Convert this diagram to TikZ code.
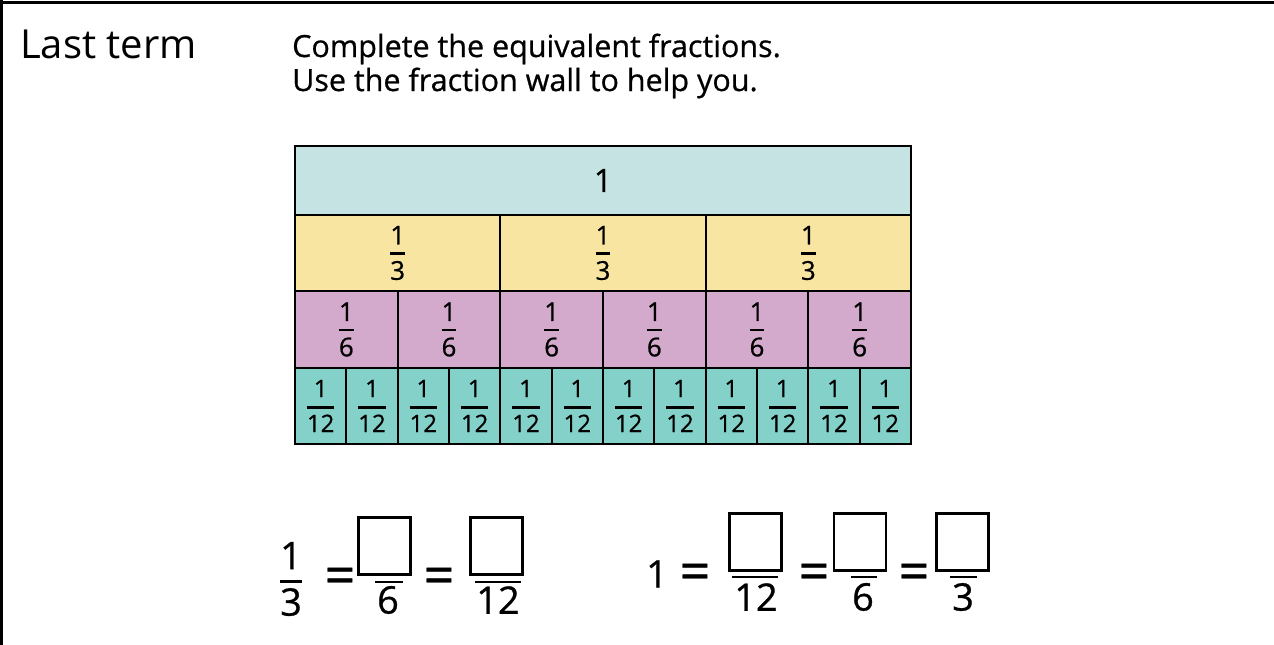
\documentclass[tikz,border=0pt]{standalone}
\usepackage{fontspec}
\setmainfont{Open Sans}[FakeBold=0.7]
\newfontfamily\handfont{Open Sans}
\definecolor{cOne}{HTML}{C5E3E2}
\definecolor{cThird}{HTML}{F9E5A2}
\definecolor{cSixth}{HTML}{D4AACC}
\definecolor{cTwelfth}{HTML}{84D1C9}
\newcommand\fracstack[2]{\vbox{\halign{\hfil##\hfil\cr #1\cr\noalign{\kern8pt\hrule height 2.5pt\kern6pt}#2\cr}}}
\newcommand\smallfracstack[2]{\vbox{\halign{\hfil##\hfil\cr #1\cr\noalign{\kern9pt\hrule height 2.5pt\kern6pt}#2\cr}}}
\newcommand\bigfracstack[2]{\vbox{\halign{\hfil##\hfil\cr #1\cr\noalign{\kern11pt\hrule height 3pt\kern5pt}#2\cr}}}
\begin{document}
\begin{tikzpicture}[x=1pt,y=-1pt,
  cell/.style={draw=black, line width=2pt, inner sep=0pt, anchor=north west, font=\fontsize{26}{30}\selectfont},
  ansbox/.style={draw=black, line width=2.5pt, minimum width=52pt, minimum height=57pt, inner sep=0pt},
  eqtxt/.style={font=\fontsize{38}{42}\selectfont, inner sep=0pt},
  eqsign/.style={font=\fontsize{54}{58}\selectfont, inner sep=0pt},
  fbar/.style={line width=2.5pt},
  heading/.style={anchor=base west, inner sep=0pt, font=\fontsize{30.5}{34}\selectfont}]
\useasboundingbox (0,0) rectangle (1274,645);
\fill[white] (0,0) rectangle (1274,645);
\draw[line width=3pt] (0,2.5) -- (1274,2.5);
\draw[line width=2.5pt] (1.5,0) -- (1.5,645);

\node[anchor=base west, inner sep=0pt, font=\handfont\fontsize{40}{44}\selectfont] (last) at (20,58) {Last term};
\node[heading] (l1) at (292,57) {Complete the equivalent fractions.};
\node[heading] (l2) at (292,91) {Use the fraction wall to help you.};

% fraction wall
\node[cell, fill=cOne, minimum width=616pt, minimum height=69pt, font=\fontsize{32}{36}\selectfont] (one) at (294,145) {1};
\foreach \i in {0,1,2}
  \node[cell, fill=cThird, minimum width=205.333pt, minimum height=76pt] (t\i) at ({294+205.333*\i},214) {\fracstack{1}{3}};
\foreach \i in {0,...,5}
  \node[cell, fill=cSixth, minimum width=102.667pt, minimum height=77pt] (s\i) at ({294+102.667*\i},290) {\fracstack{1}{6}};
\foreach \i in {0,...,11}
  \node[cell, fill=cTwelfth, minimum width=51.333pt, minimum height=76pt, font=\fontsize{24}{28}\selectfont] (w\i) at ({294+51.333*\i},367) {\smallfracstack{1}{12}};

% left equation
\node[eqtxt] (f13) at (291,579) {\bigfracstack{1}{3}};
\node[eqsign] (eqa) at (340,581) {=};
\node[ansbox] (b1) at (384.5,546) {};
\draw[fbar] (375,582) -- (403,582);
\node[eqtxt] (d1) at (388,600) {6};
\node[eqsign] (eqb) at (439,581) {=};
\node[ansbox] (b2) at (496.5,546) {};
\draw[fbar] (475,582) -- (521,582);
\node[eqtxt] (d2) at (498,600) {12};

% right equation
\node[eqtxt] (one2) at (657,574) {1};
\node[eqsign] (eqc) at (695,577) {=};
\node[ansbox] (b3) at (755.5,542) {};
\draw[fbar] (732,577) -- (778,577);
\node[eqtxt] (d3) at (756,597) {12};
\node[eqsign] (eqd) at (814,577) {=};
\node[ansbox] (b4) at (860,542) {};
\draw[fbar] (851,577) -- (877,577);
\node[eqtxt] (d4) at (863,597) {6};
\node[eqsign] (eqe) at (914,577) {=};
\node[ansbox] (b5) at (962.5,542) {};
\draw[fbar] (950,577) -- (977,577);
\node[eqtxt] (d5) at (963,597) {3};
\end{tikzpicture}
\end{document}
